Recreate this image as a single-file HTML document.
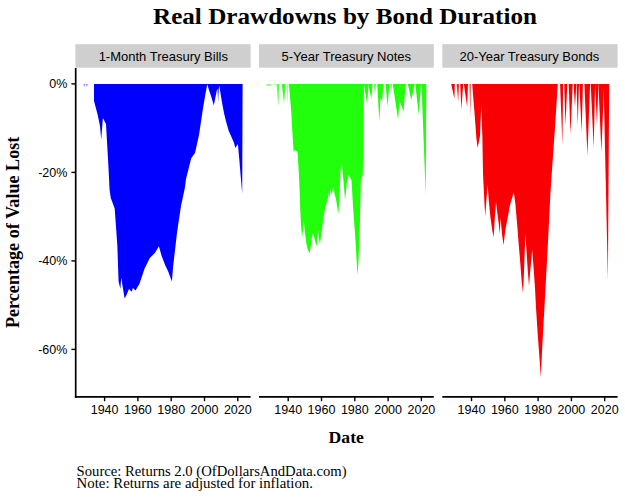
<!DOCTYPE html>
<html><head><meta charset="utf-8">
<style>
html,body{margin:0;padding:0;background:#fff;}
body{width:625px;height:500px;overflow:hidden;font-family:"Liberation Sans",sans-serif;}
svg{display:block;}
.sans{font-family:"Liberation Sans",sans-serif;fill:#000;}
.serif{font-family:"Liberation Serif",serif;fill:#000;}
</style></head><body>
<svg width="625" height="500" viewBox="0 0 625 500">
<rect width="625" height="500" fill="#ffffff"/>
<!-- title -->
<text class="serif" x="153" y="24.3" font-size="23.2" font-weight="bold" textLength="384" lengthAdjust="spacingAndGlyphs">Real Drawdowns by Bond Duration</text>
<!-- strips -->
<g fill="#cfcfcf">
<rect x="75.4" y="44.2" width="175.2" height="23.5"/>
<rect x="259" y="44.2" width="174.8" height="23.5"/>
<rect x="442.3" y="44.2" width="175.3" height="23.5"/>
</g>
<g class="sans" font-size="13" text-anchor="middle">
<text x="163.3" y="61">1-Month Treasury Bills</text>
<text x="346.3" y="61">5-Year Treasury Notes</text>
<text x="529.3" y="61">20-Year Treasury Bonds</text>
</g>
<!-- BLUE -->
<polygon id="blue" fill="#0000fe" points="94,84 94,101 97.6,114.4 100,126 101.2,139.5 102.9,118 106,124 108.4,166 109.6,190 110.8,198 114.7,208.6 117.3,245 118.6,281.4 120.4,289 121.2,277.5 124.6,298.4 126.6,294.8 129,289 131.6,291.8 132.9,288 135.5,290.5 139.4,284 144.6,268.4 149.8,258 155,252.8 158.9,246.3 161.5,255.4 165.4,265.8 168,271 171.9,281.4 173.2,265.8 177.1,232 181,206 184.9,187.8 186,179 191.2,158.3 195,153 199,135 202.9,109 205.5,93.4 207.3,84.2 209,90 211.5,97.5 213.8,105.2 215.5,97 217,89.5 217.6,89 218.1,102.5 218.7,89 219.2,85.6 220.3,92 221.9,101.8 224.1,113.6 226.2,122 228.8,131 234,142.7 235.3,148 237.9,144 239.2,158.3 240.5,174 242.2,193.5 242.6,84"/>
<polygon fill="#0000fe" opacity="0.45" points="83.4,84 85.2,84 84.6,86.6 84,86.6"/>
<polygon fill="#0000fe" opacity="0.45" points="85.9,84 87.8,84 87.1,86.6 86.5,86.6"/>
<!-- GREEN -->
<g id="green" fill="#22ff0c">
<polygon points="288.9,84 291.3,112 292,126 293.6,152 295,150 297.6,152 299,176 299.6,190 300.3,211 301,225 302.1,237.6 303.1,229.2 303.8,220.8 304.9,232 306.3,243.2 308,250.2 309.7,253 310.8,246 311.9,237.6 312.9,233.4 314.3,237.6 315.7,243.2 316.7,246 317.5,237.6 318.1,230.6 318.9,237.6 319.9,244.6 320.9,237.6 322,229.2 323.4,218 325.1,208.2 327.6,199.8 328.6,193 329.4,198.5 330.6,189 331.8,195.6 333.2,186.5 334.6,194 336,199 337.4,208.2 338.3,214.5 339.3,200 340.5,172 341.8,162.6 343.2,178 345.1,200 346.8,183.5 348.7,175 351.5,180 353,206 355.2,236 357.5,275 358.5,262 360,220 360.8,181 362.7,175 363.4,150 364,84"/>

<polygon opacity="0.55" points="266.4,84 270.8,84 270.8,85.8 266.4,85.8"/>
<polygon opacity="0.55" points="273.8,84 274.8,84 274.3,87"/>
<polygon opacity="0.75" points="276.6,84 279.3,84 278.3,106.6"/>
<polygon opacity="0.9" points="281.7,84 285.5,84 284.1,103"/>
<polygon opacity="0.6" points="287.2,84 288.4,84 287.7,105"/>
<polygon points="364,84 368.6,84 367.1,104.5"/>
<polygon points="368.2,84 372.6,84 371.3,98.7"/>
<polygon opacity="0.7" points="373.8,84 376.1,84 375,95.3"/>
<polygon points="377.3,84 383.6,84 382,101 380.5,98 379.3,121.8"/>
<polygon points="385.6,84 389.4,84 387.6,106.8"/>
<polygon opacity="0.7" points="390.2,84 392.2,84 391.1,92"/>
<polygon points="392.8,84 406.1,84 405,93 403.5,111.4 399.7,101 398,119.5"/>
<polygon points="407.8,84 414.7,84 411.3,100"/>
<polygon points="415.3,84 421,84 418.8,114.9"/>
<polygon points="421.5,84 426.3,84 425.7,195"/>
</g>
<!-- RED -->
<g id="red" fill="#f90004">
<polygon points="472.2,84 474.6,114 476.4,138 477.6,148 480,136 481.2,106 482.4,138 483,173.6 483.6,186 484.4,202 485.2,216.5 486.3,202 487.6,184.4 488.9,202 490.5,218 492.4,231 493.7,237.3 494.8,218 496,202 497.2,211.7 498.8,224.5 499.8,234 500.6,218 502,234 503.6,245.3 505.2,231 507.6,218 510,205 512.4,197 513.8,192.2 515.4,204 517.2,225 518.6,243 520.2,262 521.8,283 523,293 523.8,276 524.7,252 525.4,234 526.6,252 527.8,271 529,286 530.2,271 531.4,259 532.1,249.6 533.3,264 535,288 535.9,306 537.8,335.5 540,365 540.8,377.5 542.2,348 544.5,306 546.8,264 548.8,226 550.6,190 554.8,130 557.8,84"/>

<polygon points="451.2,84 454.8,84 454.4,98.4"/>
<polygon opacity="0.85" points="456.6,84 459,84 458.2,102"/>
<polygon points="460.2,84 463.2,84 461.4,109.2"/>
<polygon points="463.8,84 468,84 467.2,106.8"/>
<polygon opacity="0.6" points="469.2,84 471,84 470.6,117"/>
<polygon points="560.1,84 563.1,84 562.4,144.7"/>
<polygon points="564.2,84 567.3,84 565.5,125"/>
<polygon points="568.7,84 572.7,84 570.5,134"/>
<polygon points="573.6,84 576.3,84 575,107"/>
<polygon points="576.6,84 579,84 577.7,125"/>
<polygon points="579.3,84 582.9,84 581.7,132"/>
<polygon points="584.4,84 590.1,84 587.4,155.5"/>
<polygon points="590.7,84 595.1,84 593.7,148.3"/>
<polygon points="595.1,84 598.4,84 597,125"/>
<polygon points="598.4,84 604.1,84 601.4,152"/>
<polygon points="603.6,84 609.2,84 607.9,280"/>
</g>
<!-- axes -->
<g stroke="#000" fill="none">
<line x1="75.7" y1="68" x2="75.7" y2="397.8" stroke-width="1.7"/>
<line x1="74.9" y1="396.9" x2="250.6" y2="396.9" stroke-width="1.9"/>
<line x1="259" y1="396.9" x2="433.8" y2="396.9" stroke-width="1.9"/>
<line x1="442.3" y1="396.9" x2="617.6" y2="396.9" stroke-width="1.9"/>
</g>
<g stroke="#000" stroke-width="1.4">
<line x1="71.4" y1="83.9" x2="75" y2="83.9"/>
<line x1="71.4" y1="172.4" x2="75" y2="172.4"/>
<line x1="71.4" y1="260.9" x2="75" y2="260.9"/>
<line x1="71.4" y1="349.4" x2="75" y2="349.4"/>
<line x1="104.6" y1="397" x2="104.6" y2="401.2"/>
<line x1="137.9" y1="397" x2="137.9" y2="401.2"/>
<line x1="171.2" y1="397" x2="171.2" y2="401.2"/>
<line x1="204.5" y1="397" x2="204.5" y2="401.2"/>
<line x1="237.8" y1="397" x2="237.8" y2="401.2"/>
<line x1="288.2" y1="397" x2="288.2" y2="401.2"/>
<line x1="321.5" y1="397" x2="321.5" y2="401.2"/>
<line x1="354.8" y1="397" x2="354.8" y2="401.2"/>
<line x1="388.1" y1="397" x2="388.1" y2="401.2"/>
<line x1="421.4" y1="397" x2="421.4" y2="401.2"/>
<line x1="471.5" y1="397" x2="471.5" y2="401.2"/>
<line x1="504.8" y1="397" x2="504.8" y2="401.2"/>
<line x1="538.1" y1="397" x2="538.1" y2="401.2"/>
<line x1="571.4" y1="397" x2="571.4" y2="401.2"/>
<line x1="604.7" y1="397" x2="604.7" y2="401.2"/>
</g>
<g class="sans" font-size="12.5">
<text x="67.4" y="88.3" text-anchor="end">0%</text>
<text x="67.4" y="176.8" text-anchor="end">-20%</text>
<text x="67.4" y="265.3" text-anchor="end">-40%</text>
<text x="67.4" y="353.8" text-anchor="end">-60%</text>
<text x="104.6" y="413.8" text-anchor="middle">1940</text>
<text x="137.9" y="413.8" text-anchor="middle">1960</text>
<text x="171.2" y="413.8" text-anchor="middle">1980</text>
<text x="204.5" y="413.8" text-anchor="middle">2000</text>
<text x="237.8" y="413.8" text-anchor="middle">2020</text>
<text x="288.2" y="413.8" text-anchor="middle">1940</text>
<text x="321.5" y="413.8" text-anchor="middle">1960</text>
<text x="354.8" y="413.8" text-anchor="middle">1980</text>
<text x="388.1" y="413.8" text-anchor="middle">2000</text>
<text x="421.4" y="413.8" text-anchor="middle">2020</text>
<text x="471.5" y="413.8" text-anchor="middle">1940</text>
<text x="504.8" y="413.8" text-anchor="middle">1960</text>
<text x="538.1" y="413.8" text-anchor="middle">1980</text>
<text x="571.4" y="413.8" text-anchor="middle">2000</text>
<text x="604.7" y="413.8" text-anchor="middle">2020</text>
</g>
<text class="serif" x="328.6" y="442.9" font-size="17" font-weight="bold" textLength="35.3" lengthAdjust="spacingAndGlyphs">Date</text>
<text class="serif" transform="translate(19.4,328) rotate(-90)" font-size="18" font-weight="bold" textLength="191.3" lengthAdjust="spacingAndGlyphs">Percentage of Value Lost</text>
<text class="serif" x="76.6" y="475.7" font-size="13.8" textLength="270" lengthAdjust="spacingAndGlyphs">Source: Returns 2.0 (OfDollarsAndData.com)</text>
<text class="serif" x="76.6" y="487.7" font-size="13.8" textLength="236.4" lengthAdjust="spacingAndGlyphs">Note: Returns are adjusted for inflation.</text>
</svg>
</body></html>
